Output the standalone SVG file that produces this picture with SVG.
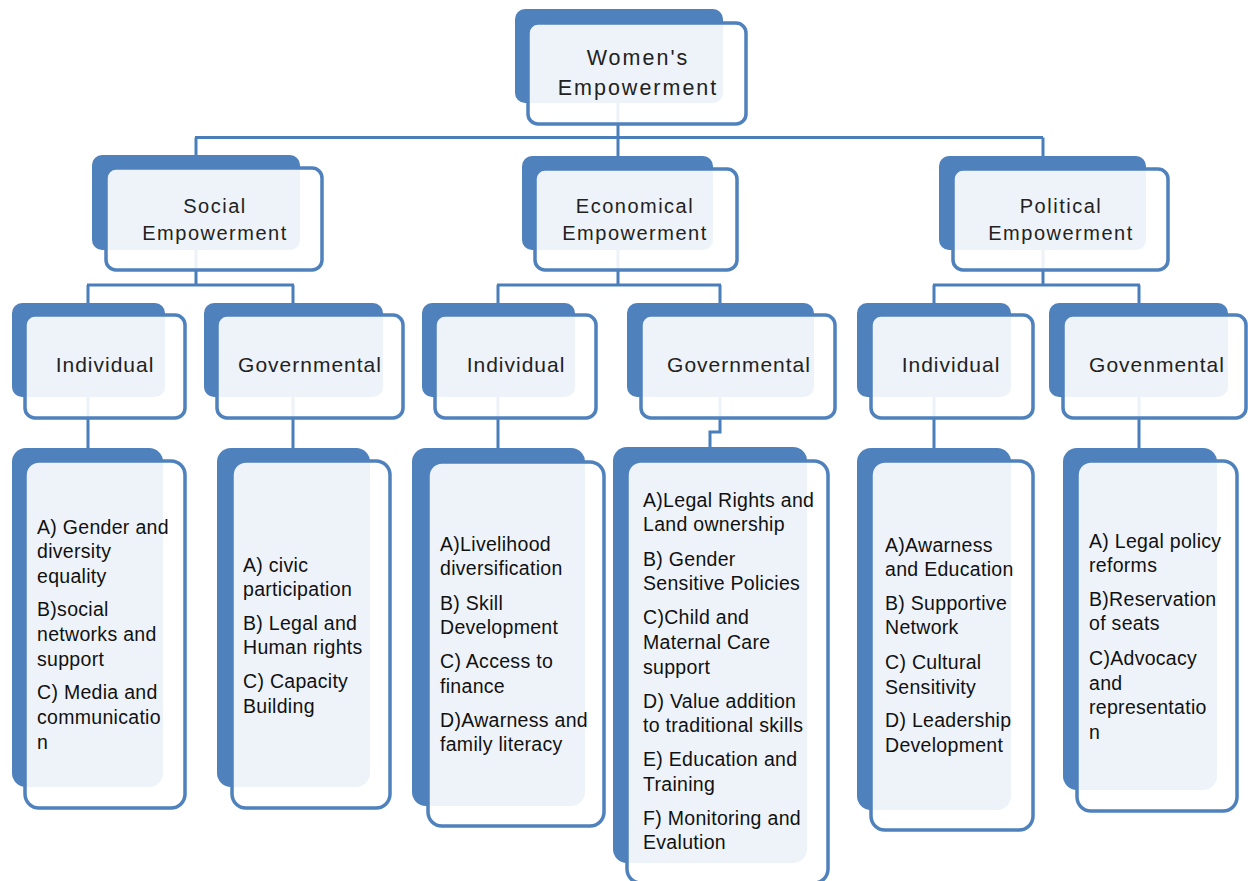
<svg xmlns="http://www.w3.org/2000/svg" width="1248" height="881" viewBox="0 0 1248 881">
<style>
.bk{fill:#4F81BD}
.fr{fill:#FFFFFF;fill-opacity:0.9;stroke:#4F81BD;stroke-width:3.5}
.cn{fill:none;stroke:#4A7EBB;stroke-width:3}
.t1{font-family:"Liberation Sans",Arial,sans-serif;font-size:21.5px;letter-spacing:2px;fill:#222;text-anchor:middle}
.t2{font-family:"Liberation Sans",Arial,sans-serif;font-size:20px;letter-spacing:1.5px;fill:#222;text-anchor:middle}
.t3{font-family:"Liberation Sans",Arial,sans-serif;font-size:21px;letter-spacing:1px;fill:#222;text-anchor:middle}
.t4{font-family:"Liberation Sans",Arial,sans-serif;font-size:19.5px;letter-spacing:0.3px;fill:#111}
</style>
<rect width="1248" height="881" fill="#FFFFFF"/>
<g id="connectors">
<path class="cn" d="M618,103 V137.5 M195,137.5 H1043 M196,137.5 V156 M618,137.5 V156 M1043,137.5 V156"/>
<path class="cn" d="M196,250 V285 M87,285 H294 M88,285 V303 M293,285 V303"/>
<path class="cn" d="M618,250 V285 M497,285 H721 M498,285 V303 M720,285 V303"/>
<path class="cn" d="M1043,250 V285 M933,285 H1140 M934,285 V303 M1139,285 V303"/>
<path class="cn" d="M88,397 V448 M293,397 V448 M498,397 V448 M720,397 V432 H710 V448 M934,397 V448 M1139,397 V448"/>
</g>
<g id="n-root">
<rect class="bk" x="515" y="9" width="208" height="94" rx="10"/>
<rect class="fr" x="528" y="23" width="218" height="101" rx="10"/>
<text class="t1" x="638" y="65">Women's</text>
<text class="t1" x="638" y="95">Empowerment</text>
</g>
<g id="n-social">
<rect class="bk" x="92" y="155" width="208" height="95" rx="10"/>
<rect class="fr" x="106" y="168" width="216" height="102" rx="10"/>
<text class="t2" x="215" y="213">Social</text>
<text class="t2" x="215" y="240">Empowerment</text>
</g>
<g id="n-economical">
<rect class="bk" x="522" y="156" width="191" height="94" rx="10"/>
<rect class="fr" x="535" y="169" width="202" height="101" rx="10"/>
<text class="t2" x="635" y="213">Economical</text>
<text class="t2" x="635" y="240">Empowerment</text>
</g>
<g id="n-political">
<rect class="bk" x="939" y="156" width="207" height="94" rx="10"/>
<rect class="fr" x="953" y="169" width="215" height="101" rx="10"/>
<text class="t2" x="1061" y="213">Political</text>
<text class="t2" x="1061" y="240">Empowerment</text>
</g>
<g id="n-soc-ind">
<rect class="bk" x="12" y="303" width="153" height="94" rx="10"/>
<rect class="fr" x="25" y="315" width="160" height="103" rx="10"/>
<text class="t3" x="105" y="372">Individual</text>
</g>
<g id="n-soc-gov">
<rect class="bk" x="204" y="303" width="179" height="94" rx="10"/>
<rect class="fr" x="217" y="315" width="186" height="103" rx="10"/>
<text class="t3" x="310" y="372">Governmental</text>
</g>
<g id="n-eco-ind">
<rect class="bk" x="422" y="303" width="153" height="94" rx="10"/>
<rect class="fr" x="435" y="315" width="161" height="103" rx="10"/>
<text class="t3" x="516" y="372">Individual</text>
</g>
<g id="n-eco-gov">
<rect class="bk" x="627" y="303" width="187" height="94" rx="10"/>
<rect class="fr" x="641" y="315" width="194" height="103" rx="10"/>
<text class="t3" x="739" y="372">Governmental</text>
</g>
<g id="n-pol-ind">
<rect class="bk" x="857" y="303" width="154" height="94" rx="10"/>
<rect class="fr" x="871" y="315" width="162" height="103" rx="10"/>
<text class="t3" x="951" y="372">Individual</text>
</g>
<g id="n-pol-gov">
<rect class="bk" x="1049" y="303" width="179" height="94" rx="10"/>
<rect class="fr" x="1063" y="315" width="183" height="103" rx="10"/>
<text class="t3" x="1157" y="372">Govenmental</text>
</g>
<g id="n-soc-ind-list">
<rect class="bk" x="12" y="448" width="151" height="339" rx="14"/>
<rect class="fr" x="25" y="461" width="160" height="347" rx="14"/>
<text class="t4" x="37" y="534">A) Gender and</text>
<text class="t4" x="37" y="558">diversity</text>
<text class="t4" x="37" y="583">equality</text>
<text class="t4" x="37" y="616">B)social</text>
<text class="t4" x="37" y="641">networks and</text>
<text class="t4" x="37" y="666">support</text>
<text class="t4" x="37" y="699">C) Media and</text>
<text class="t4" x="37" y="724">communicatio</text>
<text class="t4" x="37" y="749">n</text>
</g>
<g id="n-soc-gov-list">
<rect class="bk" x="217" y="448" width="153" height="339" rx="14"/>
<rect class="fr" x="232" y="461" width="158" height="347" rx="14"/>
<text class="t4" x="243" y="572">A) civic</text>
<text class="t4" x="243" y="596">participation</text>
<text class="t4" x="243" y="630">B) Legal and</text>
<text class="t4" x="243" y="654">Human rights</text>
<text class="t4" x="243" y="688">C) Capacity</text>
<text class="t4" x="243" y="713">Building</text>
</g>
<g id="n-eco-ind-list">
<rect class="bk" x="412" y="448" width="173" height="358" rx="14"/>
<rect class="fr" x="428" y="462" width="176" height="364" rx="14"/>
<text class="t4" x="440" y="551">A)Livelihood</text>
<text class="t4" x="440" y="575">diversification</text>
<text class="t4" x="440" y="610">B) Skill</text>
<text class="t4" x="440" y="634">Development</text>
<text class="t4" x="440" y="668">C) Access to</text>
<text class="t4" x="440" y="693">finance</text>
<text class="t4" x="440" y="727">D)Awarness and</text>
<text class="t4" x="440" y="751">family literacy</text>
</g>
<g id="n-eco-gov-list">
<rect class="bk" x="613" y="447" width="194" height="416" rx="14"/>
<rect class="fr" x="627" y="461" width="201" height="422" rx="14"/>
<text class="t4" x="643" y="507">A)Legal Rights and</text>
<text class="t4" x="643" y="531">Land ownership</text>
<text class="t4" x="643" y="566">B) Gender</text>
<text class="t4" x="643" y="590">Sensitive Policies</text>
<text class="t4" x="643" y="624">C)Child and</text>
<text class="t4" x="643" y="649">Maternal Care</text>
<text class="t4" x="643" y="674">support</text>
<text class="t4" x="643" y="708">D) Value addition</text>
<text class="t4" x="643" y="732">to traditional skills</text>
<text class="t4" x="643" y="766">E) Education and</text>
<text class="t4" x="643" y="791">Training</text>
<text class="t4" x="643" y="825">F) Monitoring and</text>
<text class="t4" x="643" y="849">Evalution</text>
</g>
<g id="n-pol-ind-list">
<rect class="bk" x="857" y="448" width="154" height="362" rx="14"/>
<rect class="fr" x="871" y="461" width="162" height="369" rx="14"/>
<text class="t4" x="885" y="552">A)Awarness</text>
<text class="t4" x="885" y="576">and Education</text>
<text class="t4" x="885" y="610">B) Supportive</text>
<text class="t4" x="885" y="634">Network</text>
<text class="t4" x="885" y="669">C) Cultural</text>
<text class="t4" x="885" y="694">Sensitivity</text>
<text class="t4" x="885" y="727">D) Leadership</text>
<text class="t4" x="885" y="752">Development</text>
</g>
<g id="n-pol-gov-list">
<rect class="bk" x="1063" y="448" width="154" height="342" rx="14"/>
<rect class="fr" x="1077" y="461" width="160" height="350" rx="14"/>
<text class="t4" x="1089" y="548">A) Legal policy</text>
<text class="t4" x="1089" y="572">reforms</text>
<text class="t4" x="1089" y="606">B)Reservation</text>
<text class="t4" x="1089" y="630">of seats</text>
<text class="t4" x="1089" y="665">C)Advocacy</text>
<text class="t4" x="1089" y="690">and</text>
<text class="t4" x="1089" y="714">representatio</text>
<text class="t4" x="1089" y="739">n</text>
</g>
</svg>
